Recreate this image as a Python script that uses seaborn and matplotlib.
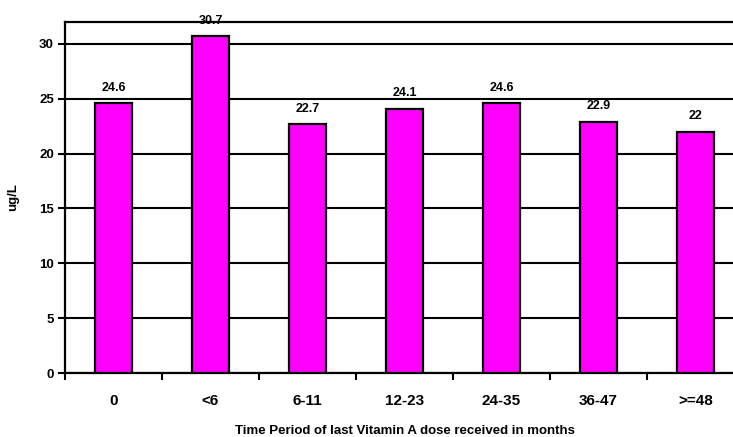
import matplotlib
matplotlib.use("Agg")
import matplotlib.pyplot as plt
import seaborn as sns
import pandas as pd
import numpy as np

categories = ["0", "<6", "6-11", "12-23", "24-35", "36-47", ">=48"]
values = [24.6, 30.7, 22.7, 24.1, 24.6, 22.9, 22.0]
value_labels = ["24.6", "30.7", "22.7", "24.1", "24.6", "22.9", "22"]
y_ticks = [0, 5, 10, 15, 20, 25, 30]

sns.set_theme(style="white")
plt.rcParams["font.family"] = ["Liberation Sans", "DejaVu Sans"]
plt.rcParams["font.weight"] = "bold"
plt.rcParams["text.color"] = "black"
plt.rcParams["axes.labelcolor"] = "black"
plt.rcParams["xtick.color"] = "black"
plt.rcParams["ytick.color"] = "black"

df = pd.DataFrame({"period": categories, "value": values})

fig = plt.figure(figsize=(7.33, 4.37), dpi=100)
ax = fig.add_axes([65 / 733, 64 / 437, 679 / 733, 351 / 437])

sns.barplot(data=df, x="period", y="value", order=categories, color="#FF00FF",
            saturation=1, width=0.39, edgecolor="black", linewidth=1.6,
            zorder=3, ax=ax)

ax.set_xlim(-0.5, len(categories) - 0.5)
ax.set_ylim(0, 32)
ax.set_yticks(y_ticks)
ax.set_yticklabels([str(t) for t in y_ticks], fontsize=9.5, fontweight="bold")
ax.yaxis.grid(True, color="black", linewidth=1.5, zorder=0)
ax.set_axisbelow(True)

# category boundaries carry the tick marks, labels sit at the centres
ax.set_xticks(np.arange(len(categories)))
ax.set_xticklabels(categories, fontsize=11, fontweight="bold")
ax.set_xticks(np.arange(len(categories) + 1) - 0.5, minor=True)
ax.tick_params(axis="x", which="major", length=0, pad=15)
ax.tick_params(axis="x", which="minor", length=5, width=1.5, color="black",
               direction="out", bottom=True)
ax.tick_params(axis="y", length=5, width=1.5, color="black", direction="out",
               left=True, pad=3)

for side in ["left", "bottom", "top"]:
    ax.spines[side].set_visible(True)
    ax.spines[side].set_color("black")
    ax.spines[side].set_linewidth(1.6)
ax.spines["right"].set_visible(False)

for i, (v, lab) in enumerate(zip(values, value_labels)):
    ax.text(i, v + 0.85, lab, ha="center", va="bottom", fontsize=9,
            fontweight="bold", color="black", clip_on=False, zorder=1)

ax.set_xlabel("Time Period of last Vitamin A dose received in months",
              fontsize=9.5, fontweight="bold", labelpad=12)
ax.set_ylabel("ug/L", fontsize=9.5, fontweight="bold", labelpad=14)

fig.savefig("out.png", dpi=100)
